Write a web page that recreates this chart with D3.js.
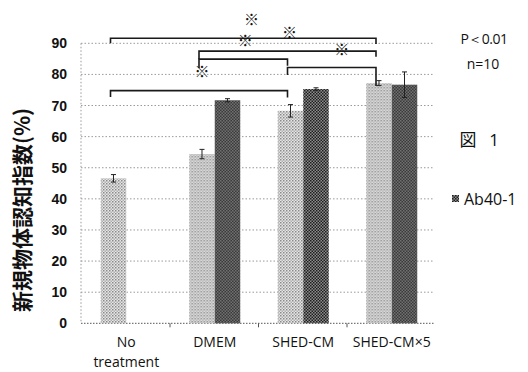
<!DOCTYPE html>
<html>
<head>
<meta charset="utf-8">
<script src="https://cdn.jsdelivr.net/npm/d3@7"></script>
<style>
  body { margin: 0; background: #fff; }
  svg { display: block; }
</style>
</head>
<body>
<div id="chart"></div>
<script>
// ---------- data ----------
const categories = ["No treatment", "DMEM", "SHED-CM", "SHED-CM×5"];
const seriesNames = ["Control", "Ab40-1"];          // only the second is visible in the legend
const controlValues = [46.6, 54.4, 68.3, 77.2];
const controlErrors = [1.2, 1.5, 2.0, 0.8];
const ab40Values = [null, 71.7, 75.3, 76.7];
const ab40Errors = [null, 0.5, 0.4, 4.1];
const yTicks = [0, 10, 20, 30, 40, 50, 60, 70, 80, 90];

// significance brackets: from / to category, level, left drop, right drop (all in % units)
const brackets = [
  { from: 0, to: 3, level: 91.6, dropL: 90.0, dropR: 89.8 },
  { from: 1, to: 3, level: 87.5, dropL: 84.9, dropR: 85.7 },
  { from: 1, to: 2, level: 84.9, dropL: 82.1, dropR: 82.8 },
  { from: 2, to: 3, level: 82.2, dropL: 79.8, dropR: 76.3 },
  { from: 0, to: 2, level: 74.8, dropL: 72.7, dropR: 72.6 }
];
// ※ marks: position in category index units (0 = first category) and % level
const marks = [
  { pos: 1.56, level: 97.5 },
  { pos: 1.99, level: 93.4 },
  { pos: 1.49, level: 90.8 },
  { pos: 2.58, level: 87.9 },
  { pos: 1.00, level: 80.9 }
];

const data = categories.map((c, i) => ({
  cat: c,
  vals: [
    { s: 0, v: controlValues[i], e: controlErrors[i] },
    { s: 1, v: ab40Values[i], e: ab40Errors[i] }
  ].filter(d => d.v != null)
}));

// ---------- layout ----------
const W = 528, H = 372;
const svg = d3.select("#chart").append("svg").attr("width", W).attr("height", H);

// halftone-like fill patterns
const defs = svg.append("defs");
const pLight = defs.append("pattern").attr("id", "pLight")
  .attr("patternUnits", "userSpaceOnUse").attr("width", 3).attr("height", 3);
pLight.append("rect").attr("width", 3).attr("height", 3).attr("fill", "#e6e6e6");
pLight.append("rect").attr("width", 1.5).attr("height", 1.5).attr("fill", "#8a8a8a");
pLight.append("rect").attr("x", 1.5).attr("y", 1.5).attr("width", 1.5).attr("height", 1.5).attr("fill", "#b0b0b0");

const pDark = defs.append("pattern").attr("id", "pDark")
  .attr("patternUnits", "userSpaceOnUse").attr("width", 3).attr("height", 3);
pDark.append("rect").attr("width", 3).attr("height", 3).attr("fill", "#8c8c8c");
pDark.append("rect").attr("width", 1.5).attr("height", 1.5).attr("fill", "#1e1e1e");
pDark.append("rect").attr("x", 1.5).attr("y", 1.5).attr("width", 1.5).attr("height", 1.5).attr("fill", "#1e1e1e");

const fills = ["url(#pLight)", "url(#pDark)"];

const y = d3.scaleLinear().domain([0, 90]).range([323.3, 43.3]);
const x0 = d3.scaleBand().domain(categories).range([82, 436]).padding(0);
const x1 = d3.scaleBand().domain([0, 1]).range([0, x0.bandwidth()])
  .paddingInner(0).paddingOuter(0.735);
const plotL = 81, plotR = 434;

// light-bar centre as a function of category index, for brackets and marks
const lightCenter = d3.scaleLinear()
  .domain([0, 1])
  .range([x0(categories[0]) + x1(0) + x1.bandwidth() / 2,
          x0(categories[1]) + x1(0) + x1.bandwidth() / 2]);

// ---------- grid ----------
svg.append("g").selectAll("line").data(yTicks.filter(d => d > 0)).join("line")
  .attr("x1", plotL).attr("x2", plotR)
  .attr("y1", d => y(d)).attr("y2", d => y(d))
  .attr("stroke", "#9a9a9a").attr("stroke-width", 1)
  .attr("stroke-dasharray", "1.5,2");

// baseline & left axis (dotted)
svg.append("line").attr("x1", plotL).attr("x2", plotR).attr("y1", y(0)).attr("y2", y(0))
  .attr("stroke", "#555").attr("stroke-dasharray", "1.5,1.5");
svg.append("line").attr("x1", plotL).attr("x2", plotL).attr("y1", y(90)).attr("y2", y(0))
  .attr("stroke", "#999").attr("stroke-dasharray", "1.5,2");
// small category separators under the baseline
svg.append("g").selectAll("line").data(categories.slice(1)).join("line")
  .attr("x1", d => x0(d) - 0.5).attr("x2", d => x0(d) - 0.5)
  .attr("y1", y(0)).attr("y2", y(0) + 4)
  .attr("stroke", "#555").attr("stroke-width", 1);

// y tick labels
svg.append("g").selectAll("text").data(yTicks).join("text")
  .attr("x", 67).attr("y", d => y(d)).attr("dy", "0.36em")
  .attr("text-anchor", "end")
  .style("font-family", "'Liberation Sans', Arial, sans-serif")
  .style("font-weight", "bold").style("font-size", "14px").attr("fill", "#111")
  .text(d => d);

// y title
svg.append("text")
  .attr("transform", "translate(23,210) rotate(-90)")
  .attr("text-anchor", "middle").attr("dy", "0.35em")
  .style("font-family", "'Noto Sans CJK JP', sans-serif")
  .style("font-weight", "bold").style("font-size", "21px").attr("fill", "#111")
  .text("新規物体認知指数(%)");

// x labels
const xl = svg.append("g").selectAll("text").data(categories).join("text")
  .attr("x", d => x0(d) + x0.bandwidth() / 2)
  .attr("y", 347)
  .attr("text-anchor", "middle")
  .style("font-family", "'Open Sans', sans-serif")
  .style("font-size", "14px").attr("fill", "#111");
xl.each(function(d) {
  const parts = d === "No treatment" ? ["No", "treatment"] : [d];
  d3.select(this).selectAll("tspan").data(parts).join("tspan")
    .attr("x", x0(d) + x0.bandwidth() / 2)
    .attr("dy", (p, i) => i === 0 ? 0 : 19.5)
    .text(p => p);
});

// ---------- bars ----------
const groups = svg.append("g").selectAll("g").data(data).join("g")
  .attr("transform", d => `translate(${x0(d.cat)},0)`);

groups.selectAll("rect").data(d => d.vals).join("rect")
  .attr("x", d => x1(d.s)).attr("width", x1.bandwidth())
  .attr("y", d => y(d.v)).attr("height", d => y(0) - y(d.v))
  .attr("fill", d => fills[d.s]);

// error bars
const eb = groups.selectAll("g.err").data(d => d.vals).join("g").attr("class", "err")
  .attr("stroke", "#222").attr("stroke-width", 1);
eb.append("line")
  .attr("x1", d => x1(d.s) + x1.bandwidth() / 2).attr("x2", d => x1(d.s) + x1.bandwidth() / 2)
  .attr("y1", d => y(d.v - d.e)).attr("y2", d => y(d.v + d.e));
eb.append("line")
  .attr("x1", d => x1(d.s) + x1.bandwidth() / 2 - 2.5).attr("x2", d => x1(d.s) + x1.bandwidth() / 2 + 2.5)
  .attr("y1", d => y(d.v + d.e)).attr("y2", d => y(d.v + d.e));
eb.append("line")
  .attr("x1", d => x1(d.s) + x1.bandwidth() / 2 - 2.5).attr("x2", d => x1(d.s) + x1.bandwidth() / 2 + 2.5)
  .attr("y1", d => y(d.v - d.e)).attr("y2", d => y(d.v - d.e));

// ---------- significance brackets ----------
const nudge = -3;
svg.append("g").selectAll("path").data(brackets).join("path")
  .attr("d", b => {
    const xa = lightCenter(b.from) + nudge, xb = lightCenter(b.to) + nudge;
    return `M${xa},${y(b.dropL)}V${y(b.level)}H${xb}V${y(b.dropR)}`;
  })
  .attr("fill", "none").attr("stroke", "#1a1a1a").attr("stroke-width", 1.6);

svg.append("g").attr("opacity", 0.99)
  .selectAll("text").data(marks).join("text")
  .attr("x", m => lightCenter(m.pos)).attr("y", m => y(m.level))
  .attr("dy", "0.35em").attr("text-anchor", "middle")
  .style("font-family", "'Noto Sans CJK JP', sans-serif")
  .style("font-weight", "bold")
  .style("font-size", "15px").attr("fill", "#111")
  .text("※");

// ---------- right side notes ----------
const note = svg.append("g")
  .style("font-family", "'Open Sans', sans-serif").attr("fill", "#111");
note.append("text").attr("x", 484).attr("y", 44).attr("text-anchor", "middle")
  .style("font-size", "14px").style("letter-spacing", "-0.5px").text("P＜0.01");
note.append("text").attr("x", 483).attr("y", 69).attr("text-anchor", "middle")
  .style("font-size", "14px").text("n=10");
note.append("text").attr("x", 468).attr("y", 146).attr("text-anchor", "middle")
  .style("font-family", "'Noto Sans CJK JP', sans-serif")
  .style("font-size", "17px").text("図");
note.append("text").attr("x", 494).attr("y", 146).attr("text-anchor", "middle")
  .style("font-size", "17px").text("1");

// legend (only Ab40-1 entry visible)
const leg = svg.append("g").attr("transform", "translate(452,195)");
leg.append("rect").attr("width", 7).attr("height", 7).attr("fill", fills[1]);
leg.append("text").attr("x", 12).attr("y", 4).attr("dy", "0.35em")
  .style("font-family", "'Open Sans', sans-serif").style("font-size", "16px")
  .attr("fill", "#111").text(seriesNames[1]);
</script>
</body>
</html>
